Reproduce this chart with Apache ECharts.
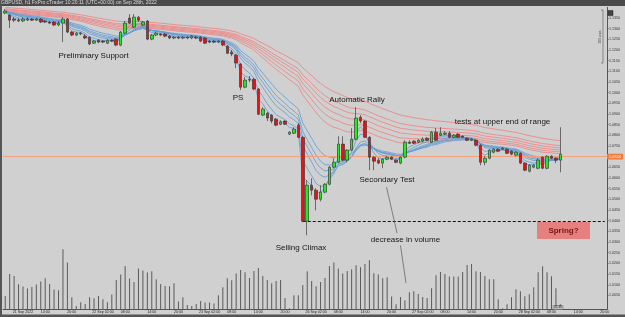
<!DOCTYPE html>
<html>
<head>
<meta charset="utf-8">
<script src="https://cdn.jsdelivr.net/npm/echarts@6/dist/echarts.min.js"></script>
<style>
  html, body { margin: 0; padding: 0; background: #d0d0d0; }
  #chart { width: 625px; height: 317px; }
</style>
</head>
<body>
<div id="chart"></div>
<script>
// GBPUSD h1, 21 Sep 05:00 -> 28 Sep 10:00 (UTC)
const startTime = Date.UTC(2022, 8, 21, 5);
const slotCount = 136; // candles + empty future slots

const open = [
  1.1373, 1.1364, 1.1345, 1.1340, 1.1336, 1.1340, 1.1345, 1.1340, 1.1345, 1.1336,
  1.1331, 1.1331, 1.1317, 1.1326, 1.1345, 1.1284, 1.1270, 1.1275, 1.1265, 1.1260,
  1.1232, 1.1246, 1.1242, 1.1232, 1.1246, 1.1251, 1.1223, 1.1279, 1.1350, 1.1307,
  1.1354, 1.1317, 1.1336, 1.1251, 1.1270, 1.1275, 1.1275, 1.1265, 1.1256, 1.1260,
  1.1256, 1.1260, 1.1256, 1.1260, 1.1260, 1.1256, 1.1242, 1.1242, 1.1237, 1.1242,
  1.1218, 1.1190, 1.1176, 1.1134, 1.1026, 1.1059, 1.1063, 1.1017, 1.0895, 1.0904,
  1.0895, 1.0876, 1.0852, 1.0867, 1.0806, 1.0810, 1.0848, 1.0791, 1.0398, 1.0566,
  1.0543, 1.0501, 1.0534, 1.0571, 1.0651, 1.0674, 1.0759, 1.0684, 1.0731, 1.0782,
  1.0885, 1.0867, 1.0791, 1.0698, 1.0684, 1.0670, 1.0688, 1.0698, 1.0684, 1.0670,
  1.0698, 1.0768, 1.0773, 1.0768, 1.0773, 1.0787, 1.0768, 1.0815, 1.0801, 1.0806,
  1.0810, 1.0791, 1.0806, 1.0796, 1.0787, 1.0777, 1.0777, 1.0754, 1.0674, 1.0693,
  1.0721, 1.0735, 1.0735, 1.0735, 1.0726, 1.0707, 1.0716, 1.0670, 1.0632, 1.0651,
  1.0646, 1.0698, 1.0646, 1.0702, 1.0693, 1.0684
];
const close = [
  1.1382, 1.1340, 1.1340, 1.1336, 1.1345, 1.1345, 1.1340, 1.1345, 1.1331, 1.1331,
  1.1326, 1.1317, 1.1326, 1.1345, 1.1284, 1.1270, 1.1279, 1.1279, 1.1256, 1.1228,
  1.1242, 1.1237, 1.1237, 1.1246, 1.1242, 1.1223, 1.1284, 1.1326, 1.1326, 1.1354,
  1.1340, 1.1331, 1.1251, 1.1270, 1.1279, 1.1270, 1.1265, 1.1256, 1.1260, 1.1256,
  1.1260, 1.1256, 1.1265, 1.1256, 1.1242, 1.1232, 1.1237, 1.1237, 1.1242, 1.1223,
  1.1185, 1.1181, 1.1139, 1.1026, 1.1059, 1.1063, 1.1017, 1.0899, 1.0923, 1.0881,
  1.0867, 1.0848, 1.0862, 1.0852, 1.0815, 1.0829, 1.0791, 1.0398, 1.0566, 1.0543,
  1.0501, 1.0534, 1.0571, 1.0651, 1.0674, 1.0759, 1.0684, 1.0731, 1.0782, 1.0881,
  1.0867, 1.0791, 1.0698, 1.0679, 1.0670, 1.0688, 1.0698, 1.0688, 1.0674, 1.0698,
  1.0768, 1.0763, 1.0763, 1.0777, 1.0782, 1.0777, 1.0815, 1.0777, 1.0810, 1.0810,
  1.0791, 1.0801, 1.0791, 1.0791, 1.0777, 1.0782, 1.0754, 1.0674, 1.0693, 1.0731,
  1.0735, 1.0726, 1.0740, 1.0716, 1.0712, 1.0721, 1.0670, 1.0637, 1.0660, 1.0660,
  1.0684, 1.0646, 1.0702, 1.0693, 1.0684, 1.0712
];
const low = [
  1.1368, 1.1303, 1.1331, 1.1331, 1.1331, 1.1336, 1.1336, 1.1336, 1.1326, 1.1326,
  1.1321, 1.1312, 1.1312, 1.1237, 1.1279, 1.1265, 1.1265, 1.1270, 1.1251, 1.1223,
  1.1228, 1.1232, 1.1232, 1.1228, 1.1237, 1.1218, 1.1218, 1.1275, 1.1321, 1.1303,
  1.1331, 1.1312, 1.1246, 1.1246, 1.1265, 1.1265, 1.1260, 1.1251, 1.1251, 1.1251,
  1.1251, 1.1251, 1.1251, 1.1251, 1.1237, 1.1228, 1.1232, 1.1232, 1.1232, 1.1218,
  1.1181, 1.1171, 1.1115, 1.1012, 1.1021, 1.1049, 1.1012, 1.0895, 1.0890, 1.0867,
  1.0857, 1.0843, 1.0848, 1.0848, 1.0801, 1.0806, 1.0787, 1.0393, 1.0332, 1.0519,
  1.0449, 1.0491, 1.0529, 1.0566, 1.0646, 1.0670, 1.0679, 1.0674, 1.0726, 1.0777,
  1.0857, 1.0787, 1.0637, 1.0637, 1.0665, 1.0646, 1.0684, 1.0684, 1.0670, 1.0665,
  1.0693, 1.0759, 1.0759, 1.0763, 1.0768, 1.0773, 1.0763, 1.0773, 1.0796, 1.0801,
  1.0787, 1.0787, 1.0787, 1.0787, 1.0773, 1.0773, 1.0749, 1.0660, 1.0660, 1.0688,
  1.0716, 1.0721, 1.0731, 1.0712, 1.0707, 1.0702, 1.0665, 1.0632, 1.0627, 1.0646,
  1.0641, 1.0641, 1.0641, 1.0688, 1.0670, 1.0627
];
const high = [
  1.1392, 1.1368, 1.1354, 1.1350, 1.1354, 1.1354, 1.1350, 1.1350, 1.1350, 1.1340,
  1.1336, 1.1336, 1.1336, 1.1354, 1.1350, 1.1289, 1.1284, 1.1284, 1.1275, 1.1265,
  1.1246, 1.1251, 1.1246, 1.1251, 1.1251, 1.1256, 1.1289, 1.1336, 1.1368, 1.1368,
  1.1359, 1.1336, 1.1340, 1.1275, 1.1284, 1.1279, 1.1279, 1.1270, 1.1265, 1.1265,
  1.1265, 1.1265, 1.1270, 1.1265, 1.1265, 1.1260, 1.1246, 1.1246, 1.1246, 1.1246,
  1.1223, 1.1200, 1.1181, 1.1139, 1.1073, 1.1078, 1.1068, 1.1021, 1.0932, 1.0909,
  1.0899, 1.0881, 1.0871, 1.0871, 1.0820, 1.0838, 1.0857, 1.0796, 1.0590, 1.0599,
  1.0552, 1.0566, 1.0576, 1.0656, 1.0693, 1.0796, 1.0796, 1.0735, 1.0834, 1.0932,
  1.0895, 1.0871, 1.0796, 1.0702, 1.0693, 1.0693, 1.0702, 1.0702, 1.0688, 1.0702,
  1.0777, 1.0777, 1.0777, 1.0782, 1.0791, 1.0791, 1.0820, 1.0834, 1.0838, 1.0820,
  1.0820, 1.0806, 1.0810, 1.0801, 1.0791, 1.0787, 1.0782, 1.0759, 1.0702, 1.0735,
  1.0740, 1.0740, 1.0745, 1.0740, 1.0731, 1.0726, 1.0721, 1.0674, 1.0665, 1.0665,
  1.0693, 1.0702, 1.0707, 1.0707, 1.0698, 1.0838
];
const volume = [
  1330, 3530, 3330, 2500, 2270, 2070, 2230, 2470, 2770, 3100,
  2530, 1970, 1900, 6000, 4670, 1200, 330, 700, 530, 1200,
  1100, 1330, 1000, 700, 1470, 2930, 3470, 4330, 3070, 2730,
  4070, 3870, 3670, 3800, 3000, 2530, 2330, 2300, 2600, 770,
  1200, 430, 330, 530, 830, 670, 670, 570, 1400, 2200,
  3100, 2900, 3570, 3930, 3700, 3130, 3830, 4130, 3330, 2930,
  2600, 2830, 2930, 1130, 100, 1400, 1400, 2430, 3800, 2830,
  2300, 2730, 3130, 4330, 4670, 4070, 3570, 3830, 4000, 4400,
  4200, 4530, 4900, 3600, 3470, 3100, 3200, 1270, 500, 1230,
  900, 1700, 1800, 1530, 1230, 1130, 2100, 3400, 3730, 3530,
  3270, 3270, 3270, 3730, 4430, 4530, 3800, 3730, 3330, 3000,
  3000, 1000, 100, 500, 1200, 2000, 1800, 1300, 1500, 2200,
  3700, 4300, 3700, 3300, 2100, 500
];

// Guppy multiple moving averages, starting values read at the left edge
const bluePeriods = [3, 5, 8, 10, 12, 15];
const blueSeed = [1.1378, 1.1379, 1.1380, 1.1381, 1.1382, 1.1383];
const redPeriods = [30, 35, 40, 45, 50, 60];
const redSeed = [1.1375, 1.1380, 1.1385, 1.1390, 1.1394, 1.1401];

const priceMin = 1.0, priceMax = 1.14, priceStep = 0.005;
const volumeMax = 6000;
const climaxIndex = 67;

const monthNames = ["Jan", "Feb", "Mar", "Apr", "May", "Jun", "Jul", "Aug", "Sep", "Oct", "Nov", "Dec"];
const times = [];
for (let t = startTime; times.length < slotCount; t += 3600e3) {
  const d = new Date(t);
  const day = d.getUTCDay(), h = d.getUTCHours();
  const closed = (day === 5 && h >= 21) || day === 6 || (day === 0 && h < 21);
  if (!closed) times.push(t);
}
const pad = (n) => String(n).padStart(2, "0");
const categories = times.map((t) => {
  const d = new Date(t);
  return d.getUTCDate() + " " + monthNames[d.getUTCMonth()] + " " + pad(d.getUTCHours()) + ":00";
});
const showTick = (i) => i % 6 === 3;
const tickLabel = (value, i) => {
  const d = new Date(times[i]);
  const hh = pad(d.getUTCHours()) + ":00";
  if (i === 3) return "{d|" + d.getUTCDate() + " " + monthNames[d.getUTCMonth()] + " " + d.getUTCFullYear() + "}";
  if (d.getUTCHours() === 2) return "{d|" + d.getUTCDate() + " " + monthNames[d.getUTCMonth()] + " " + hh + "}";
  return hh;
};

const ema = (period, seed) => {
  const k = 2 / (period + 1);
  let prev = seed;
  return close.map((c) => (prev = prev + k * (c - prev)));
};

const candles = open.map((o, i) => [o, close[i], low[i], high[i]]);

const maSeries = [];
redPeriods.forEach((p, i) => {
  maSeries.push({
    type: "line", xAxisIndex: 0, yAxisIndex: 0, data: ema(p, redSeed[i]),
    symbol: "none", silent: true, z: 2,
    lineStyle: { color: "#f07f7f", width: 0.8 }
  });
});
bluePeriods.forEach((p, i) => {
  maSeries.push({
    type: "line", xAxisIndex: 0, yAxisIndex: 0, data: ema(p, blueSeed[i]),
    symbol: "none", silent: true, z: 3,
    lineStyle: { color: "#5e9bd6", width: 0.8 }
  });
});

const chart = echarts.init(document.getElementById("chart"), null, { renderer: "canvas" });

const font = "Liberation Sans, Arial, sans-serif";
const note = (text, x, y) => ({
  type: "text", x: x, y: y, z: 50,
  style: { text: text, fill: "#161616", font: "8px " + font, textAlign: "center", textVerticalAlign: "middle" }
});

chart.setOption({
  animation: false,
  backgroundColor: "#d0d0d0",
  grid: [
    { left: 3, right: 18, top: 7.33, bottom: 10.9 },
    { left: 3, right: 18, top: 249.3, bottom: 7.7 }
  ],
  xAxis: [
    {
      type: "category", gridIndex: 0, data: categories, boundaryGap: true,
      axisLine: { show: false }, axisTick: { show: false }, axisLabel: { show: false }
    },
    {
      type: "category", gridIndex: 1, data: categories, boundaryGap: true,
      axisLine: { lineStyle: { color: "#555", width: 1 } },
      axisTick: { interval: showTick, alignWithLabel: true, length: 1.5, lineStyle: { color: "#555" } },
      axisLabel: {
        interval: showTick, fontSize: 3.6, color: "#222", margin: 1, formatter: tickLabel,
        fontFamily: font, rich: { d: { fontSize: 3.6, color: "#222", padding: [0, 0, 0, 9], fontFamily: font } }
      }
    }
  ],
  yAxis: [
    {
      type: "value", gridIndex: 0, position: "right", min: priceMin, max: priceMax, interval: priceStep,
      axisLine: { show: true, lineStyle: { color: "#555" } },
      axisTick: { show: true, length: 1.5, lineStyle: { color: "#555" } },
      splitLine: { show: false },
      axisLabel: {
        fontSize: 3.6, color: "#333", margin: 2, fontFamily: font,
        showMinLabel: false, showMaxLabel: false,
        formatter: (v) => v.toFixed(4)
      }
    },
    {
      type: "value", gridIndex: 1, position: "right", min: 0, max: volumeMax,
      axisLine: { show: true, lineStyle: { color: "#555" } },
      axisTick: { show: false }, axisLabel: { show: false }, splitLine: { show: false }
    }
  ],
  series: [
    ...maSeries,
    {
      type: "bar", xAxisIndex: 1, yAxisIndex: 1, data: volume, barWidth: 1,
      itemStyle: { color: "#5a5a5a" }, silent: true, z: 2
    },
    {
      type: "candlestick", xAxisIndex: 0, yAxisIndex: 0, data: candles, barWidth: 3, z: 5,
      itemStyle: {
        color: "#1cf01c", color0: "#ec1010",
        borderColor: "#3c3c3c", borderColor0: "#3c3c3c", borderWidth: 0.7
      },
      markLine: {
        silent: true, symbol: "none", animation: false,
        data: [
          {
            yAxis: close[close.length - 1],
            lineStyle: { color: "#f2a07e", width: 1, type: "solid" },
            label: {
              show: true, position: "end", distance: 0, formatter: (p) => p.value.toFixed(5),
              fontSize: 3.4, color: "#fff", backgroundColor: "#f07a3c", padding: [1.4, 2], borderRadius: 1
            }
          },
          [
            { coord: [climaxIndex, close[climaxIndex]], lineStyle: { color: "#111", width: 1, type: [3, 2] }, label: { show: false } },
            { coord: [slotCount - 1, close[climaxIndex]] }
          ]
        ]
      }
    }
  ],
  graphic: [
    { type: "rect", shape: { x: 0, y: 0, width: 625, height: 6 }, style: { fill: "#4a4a4a" }, z: 60 },
    {
      type: "text", x: 1, y: 3, z: 61,
      style: { text: "GBPUSD, h1 FxPro cTrader 10:20:11 (UTC+00:00) on Sep 28th, 2022", fill: "#d8d8d8", font: "5px " + font, textVerticalAlign: "middle" }
    },
    { type: "rect", shape: { x: 0, y: 0, width: 2, height: 317 }, style: { fill: "#555" }, z: 60 },
    { type: "rect", shape: { x: 0, y: 314.5, width: 625, height: 3 }, style: { fill: "#555" }, z: 60 },
    { type: "rect", shape: { x: 608, y: 10.5, width: 5, height: 5 }, style: { fill: "#444", stroke: "#222", lineWidth: 0.5 }, z: 60 },
    { type: "polyline", shape: { points: [[601, 10], [603, 10], [603, 63], [601, 63]] }, style: { stroke: "#555", lineWidth: 0.6, fill: null }, z: 40 },
    {
      type: "text", x: 600, y: 37, rotation: Math.PI / 2, z: 40,
      style: { text: "200 pips", fill: "#444", font: "3.5px " + font, textAlign: "center", textVerticalAlign: "middle" }
    },
    note("Preliminary Support", 93.5, 56),
    note("PS", 238, 97.5),
    note("Automatic Rally", 357, 100),
    note("tests at upper end of range", 502.5, 122),
    note("Secondary Test", 387, 179.5),
    note("Selling Climax", 301, 247.5),
    note("decrease in volume", 405.5, 239.5),
    { type: "line", shape: { x1: 386.5, y1: 187, x2: 397, y2: 233 }, style: { stroke: "#444", lineWidth: 0.6 }, z: 40 },
    { type: "line", shape: { x1: 400.5, y1: 245.5, x2: 406, y2: 283 }, style: { stroke: "#444", lineWidth: 0.6 }, z: 40 },
    { type: "rect", shape: { x: 537, y: 222, width: 53, height: 17 }, style: { fill: "#e5807e" }, z: 40 },
    {
      type: "text", x: 563.5, y: 230.5, z: 41,
      style: { text: "Spring?", fill: "#7a1414", font: "bold 8px " + font, textAlign: "center", textVerticalAlign: "middle" }
    },
    { type: "rect", shape: { x: 553, y: 305.5, width: 10, height: 4 }, style: { fill: "#bdbdbd", stroke: "#555", lineWidth: 0.4 }, z: 40 },
    {
      type: "text", x: 558, y: 307.5, z: 41,
      style: { text: "01:39", fill: "#222", font: "3px " + font, textAlign: "center", textVerticalAlign: "middle" }
    }
  ]
});
</script>
</body>
</html>
